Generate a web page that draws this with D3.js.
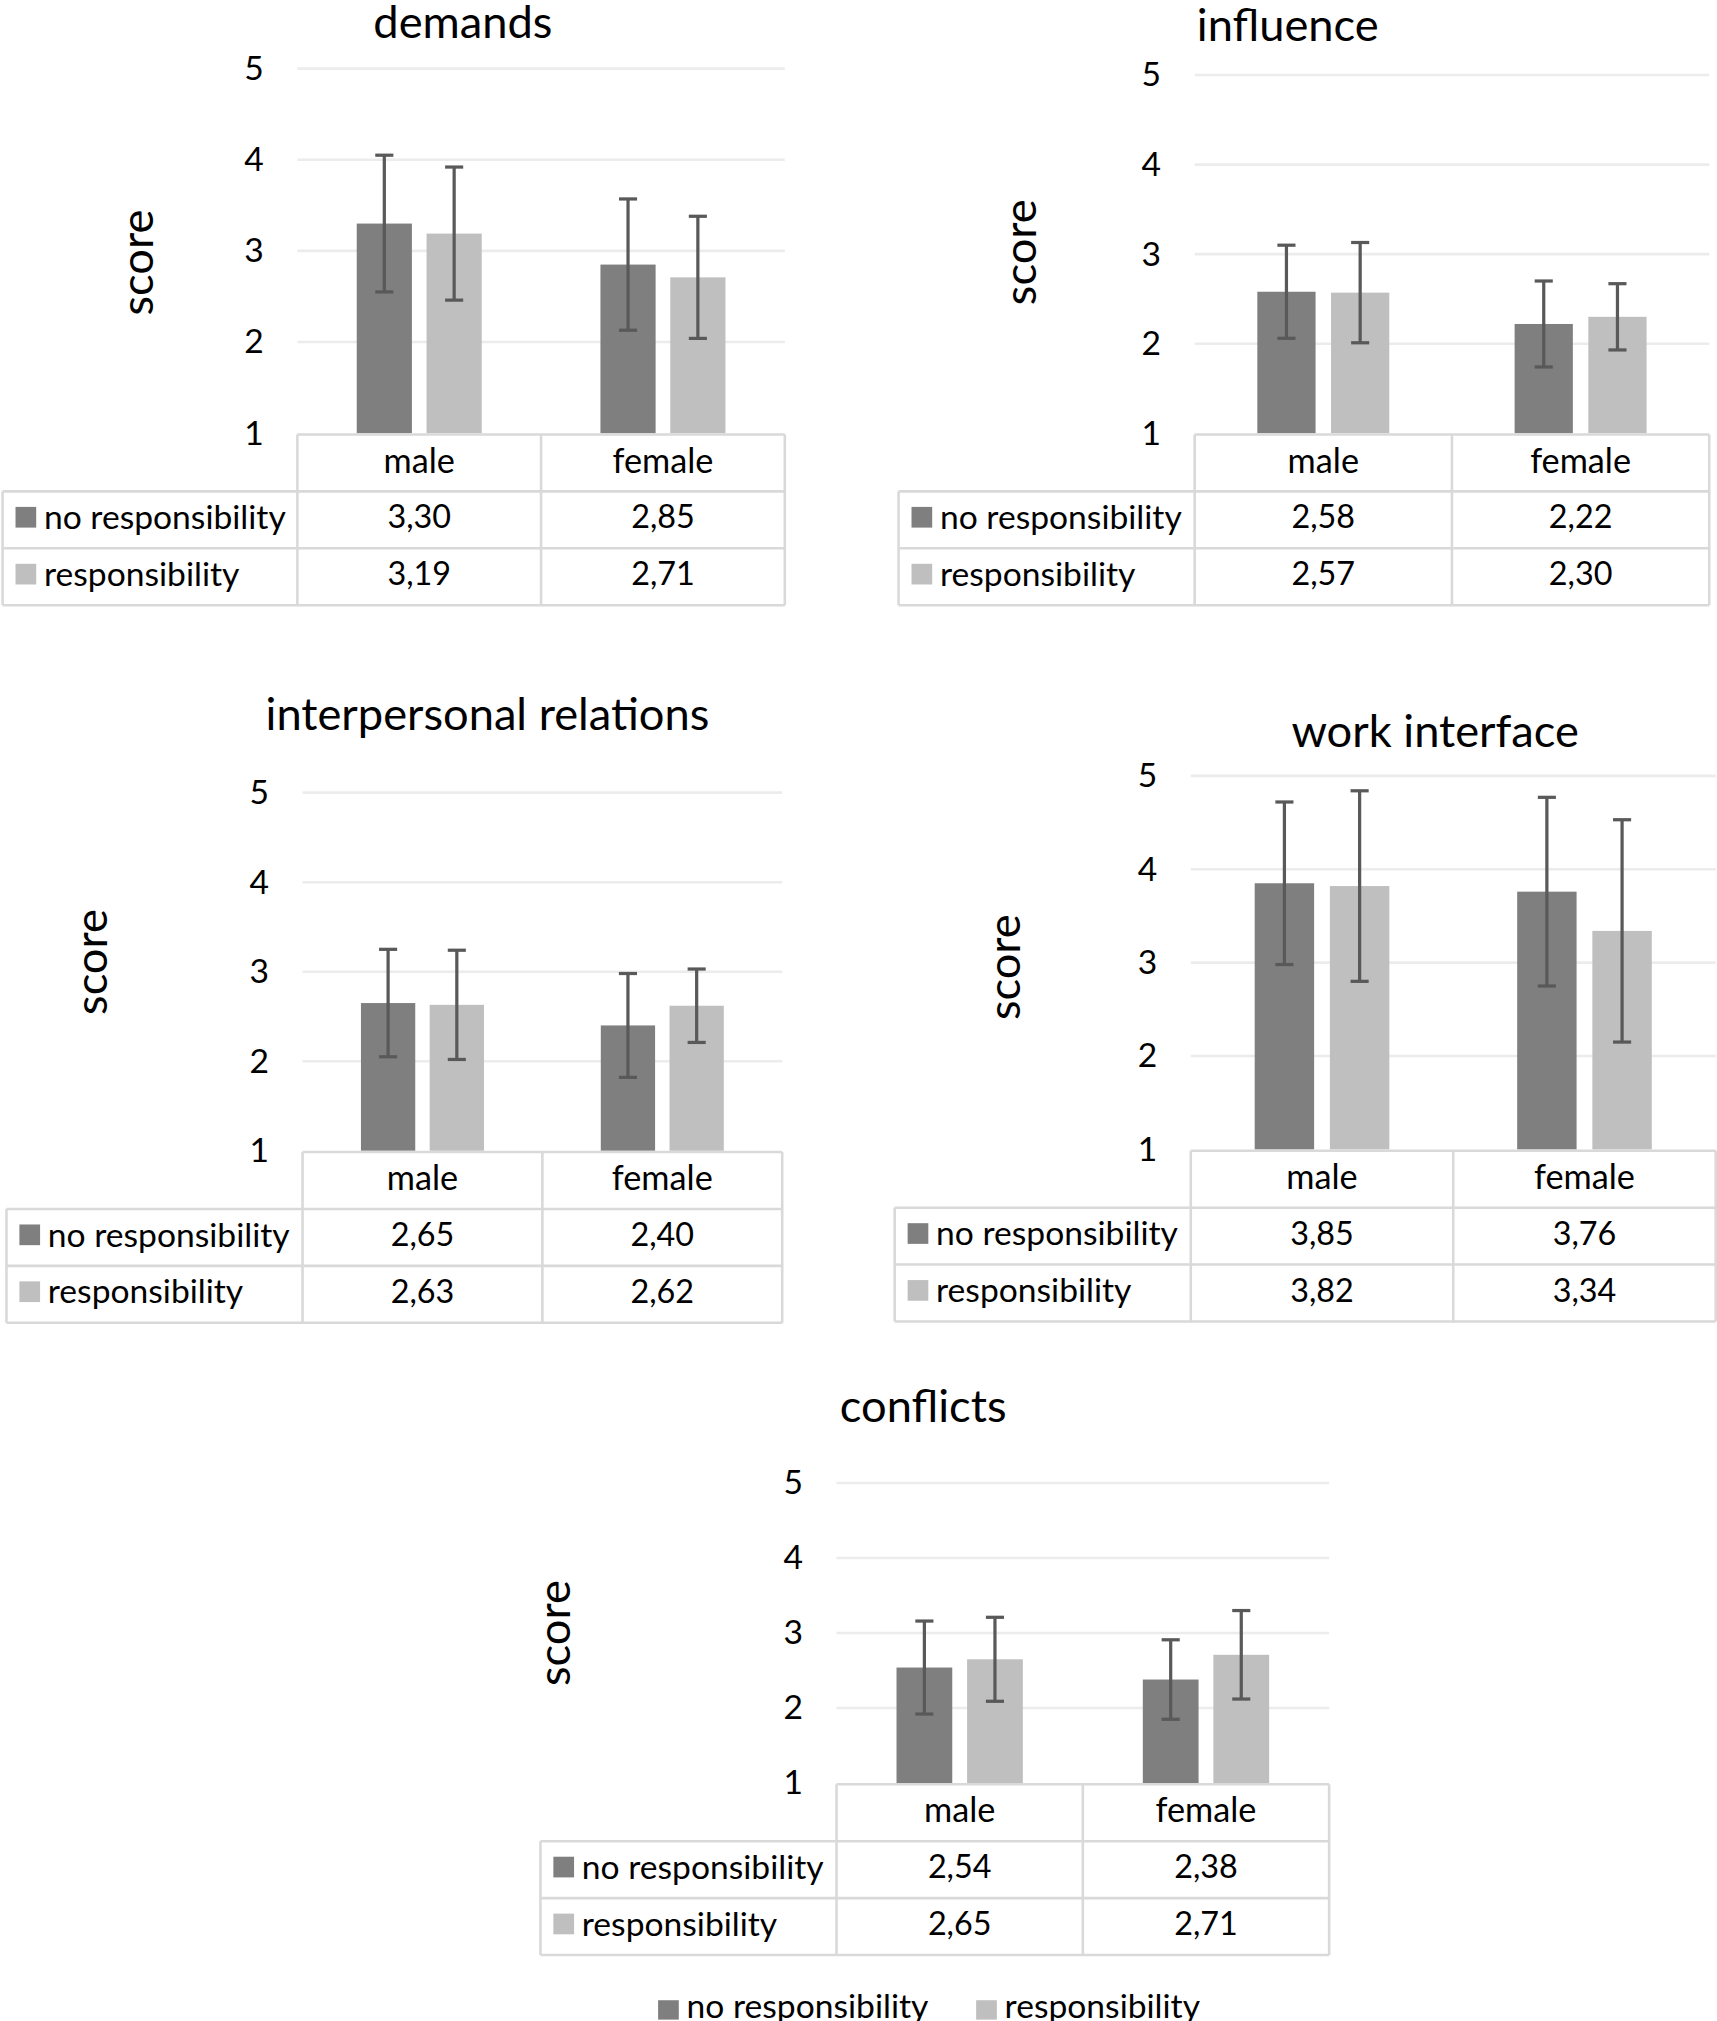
<!DOCTYPE html>
<html>
<head>
<meta charset="utf-8">
<script src="https://cdn.jsdelivr.net/npm/d3@7"></script>
<style>
  body { margin: 0; background: #fff; }
  svg { display: block; }
  text { font-family: Lato, "Open Sans", sans-serif; fill: #000; }
</style>
</head>
<body>
<div id="chart"></div>
<script>
// data
const genders = ["male", "female"];
const series = ["no responsibility", "responsibility"];
const titles = ["demands", "influence", "interpersonal relations", "work interface", "conflicts"];
const yTicks = [1, 2, 3, 4, 5];

// means per panel: [male, female]
const noRespMeans = [[3.30, 2.85], [2.58, 2.22], [2.65, 2.40], [3.85, 3.76], [2.54, 2.38]];
const respMeans   = [[3.19, 2.71], [2.57, 2.30], [2.63, 2.62], [3.82, 3.34], [2.65, 2.71]];
// error bar half-lengths (sd), estimated from whiskers
const noRespSd = [[0.75, 0.72], [0.52, 0.48], [0.60, 0.58], [0.87, 1.01], [0.62, 0.53]];
const respSd   = [[0.73, 0.67], [0.56, 0.37], [0.61, 0.41], [1.02, 1.19], [0.56, 0.59]];

// layout (in 1328-wide design units, scaled by the viewBox)
const layout = [
    { left: 230, right: 607, top: 53, bottom: 335, legLeft: 2, titleX: 358, titleY: 16, scoreX: 108, scoreY: 203 },
    { left: 924, right: 1322, top: 58, bottom: 335, legLeft: 695, titleX: 996, titleY: 18, scoreX: 791, scoreY: 195 },
    { left: 234, right: 605, top: 613, bottom: 890, legLeft: 5, titleX: 377, titleY: 551, scoreX: 72, scoreY: 744 },
    { left: 921, right: 1327, top: 600, bottom: 889, legLeft: 692, titleX: 1110, titleY: 564, scoreX: 778, scoreY: 748 },
    { left: 647, right: 1028, top: 1147, bottom: 1379, legLeft: 418, titleX: 714, titleY: 1086, scoreX: 430, scoreY: 1263 }
];

const colors = { "no responsibility": "#7f7f7f", "responsibility": "#bfbfbf" };
const errColor = "#595959";
const gridColor = "#ececec";
const tableColor = "#d9d9d9";
const rowH = 44;

const W = 1328, H = 1563;
const svg = d3.select("#chart").append("svg")
    .attr("width", 1717)
    .attr("height", 2021)
    .attr("viewBox", `0 0 ${W} ${H}`);

const fmt = v => v.toFixed(2).replace(".", ",");

function drawPanel(i) {
    const L = layout[i];
    const g = svg.append("g");

    const y = d3.scaleLinear().domain([1, 5]).range([L.bottom, L.top]);
    const x = d3.scaleBand().domain(genders).range([L.left, L.right]);
    const xs = d3.scaleBand().domain(series).range([0, x.bandwidth()])
        .paddingInner(0.21).paddingOuter(0.85);

    // gridlines
    g.selectAll(".grid")
        .data(yTicks.filter(t => t > 1))
        .enter().append("line")
        .attr("x1", L.left).attr("x2", L.right)
        .attr("y1", d => y(d)).attr("y2", d => y(d))
        .attr("stroke", gridColor).attr("stroke-width", 2);

    // y axis (labels only)
    const yAxis = d3.axisLeft(y).tickValues(yTicks).tickSize(0).tickPadding(26).tickFormat(d3.format("d"));
    const ax = g.append("g").attr("transform", `translate(${L.left},0)`).call(yAxis);
    ax.select(".domain").remove();
    ax.selectAll("text").style("font-size", "26px").style("font-family", "Lato, sans-serif").attr("fill", "#000");

    // title
    g.append("text")
        .attr("x", L.titleX).attr("y", L.titleY)
        .attr("text-anchor", "middle").attr("dominant-baseline", "central")
        .style("font-size", "35px")
        .text(titles[i]);

    // score label
    g.append("text")
        .attr("transform", `translate(${L.scoreX - 3},${L.scoreY}) rotate(-90)`)
        .attr("text-anchor", "middle").attr("dominant-baseline", "central")
        .style("font-size", "35px")
        .text("score");

    const rows = genders.map((gname, gi) => ({
        gender: gname,
        vals: [
            { s: series[0], v: noRespMeans[i][gi], sd: noRespSd[i][gi] },
            { s: series[1], v: respMeans[i][gi], sd: respSd[i][gi] }
        ]
    }));

    const groups = g.selectAll(".grp").data(rows).enter().append("g")
        .attr("transform", d => `translate(${x(d.gender)},0)`);

    groups.selectAll("rect").data(d => d.vals).enter().append("rect")
        .attr("x", d => xs(d.s))
        .attr("width", xs.bandwidth())
        .attr("y", d => y(d.v))
        .attr("height", d => y(1) - y(d.v))
        .attr("fill", d => colors[d.s]);

    // error bars
    const eb = groups.selectAll(".eb").data(d => d.vals).enter().append("g")
        .attr("stroke", errColor).attr("stroke-width", 2.5);
    eb.append("line")
        .attr("x1", d => xs(d.s) + xs.bandwidth() / 2).attr("x2", d => xs(d.s) + xs.bandwidth() / 2)
        .attr("y1", d => y(d.v + d.sd)).attr("y2", d => y(d.v - d.sd));
    [1, -1].forEach(sign => {
        eb.append("line")
            .attr("x1", d => xs(d.s) + xs.bandwidth() / 2 - 7).attr("x2", d => xs(d.s) + xs.bandwidth() / 2 + 7)
            .attr("y1", d => y(d.v + sign * d.sd)).attr("y2", d => y(d.v + sign * d.sd));
    });

    // data table
    const t0 = L.bottom + 1;
    const tb = g.append("g").attr("stroke", tableColor).attr("stroke-width", 2).attr("fill", "none");
    tb.append("line").attr("x1", L.left).attr("x2", L.right).attr("y1", t0).attr("y2", t0);
    [1, 2, 3].forEach(r => {
        tb.append("line").attr("x1", L.legLeft).attr("x2", L.right)
            .attr("y1", t0 + r * rowH).attr("y2", t0 + r * rowH);
    });
    tb.append("line").attr("x1", L.legLeft).attr("x2", L.legLeft).attr("y1", t0 + rowH).attr("y2", t0 + 3 * rowH);
    [L.left, L.left + x.bandwidth(), L.right].forEach(vx => {
        tb.append("line").attr("x1", vx).attr("x2", vx).attr("y1", t0).attr("y2", t0 + 3 * rowH);
    });

    // header
    g.selectAll(".hdr").data(genders).enter().append("text")
        .attr("x", d => x(d) + x.bandwidth() / 2)
        .attr("y", t0 + rowH / 2 - 3)
        .attr("text-anchor", "middle").attr("dominant-baseline", "central")
        .style("font-size", "26.5px")
        .text(d => d);

    series.forEach((s, si) => {
        const ry = t0 + (si + 1) * rowH + rowH / 2;
        g.append("rect")
            .attr("x", L.legLeft + 10).attr("y", ry - 10)
            .attr("width", 16).attr("height", 16)
            .attr("fill", colors[s]);
        g.append("text")
            .attr("x", L.legLeft + 32).attr("y", ry - 3)
            .attr("dominant-baseline", "central")
            .style("font-size", "26px")
            .text(s);
        g.selectAll(".val" + si).data(rows).enter().append("text")
            .attr("x", d => x(d.gender) + x.bandwidth() / 2)
            .attr("y", ry - 3)
            .attr("text-anchor", "middle").attr("dominant-baseline", "central")
            .style("font-size", "25px")
            .text(d => fmt(d.vals[si].v));
    });
}

titles.forEach((t, i) => drawPanel(i));

// bottom legend
const legendX = [509, 755];
const leg = svg.append("g").selectAll("g").data(series).enter().append("g")
    .attr("transform", (d, i) => `translate(${legendX[i]},0)`);
leg.append("rect")
    .attr("x", 0).attr("y", 1547).attr("width", 16).attr("height", 15)
    .attr("fill", d => colors[d]);
leg.append("text")
    .attr("x", 22).attr("y", 1561)
    .style("font-size", "26px")
    .text(d => d);
</script>
</body>
</html>
